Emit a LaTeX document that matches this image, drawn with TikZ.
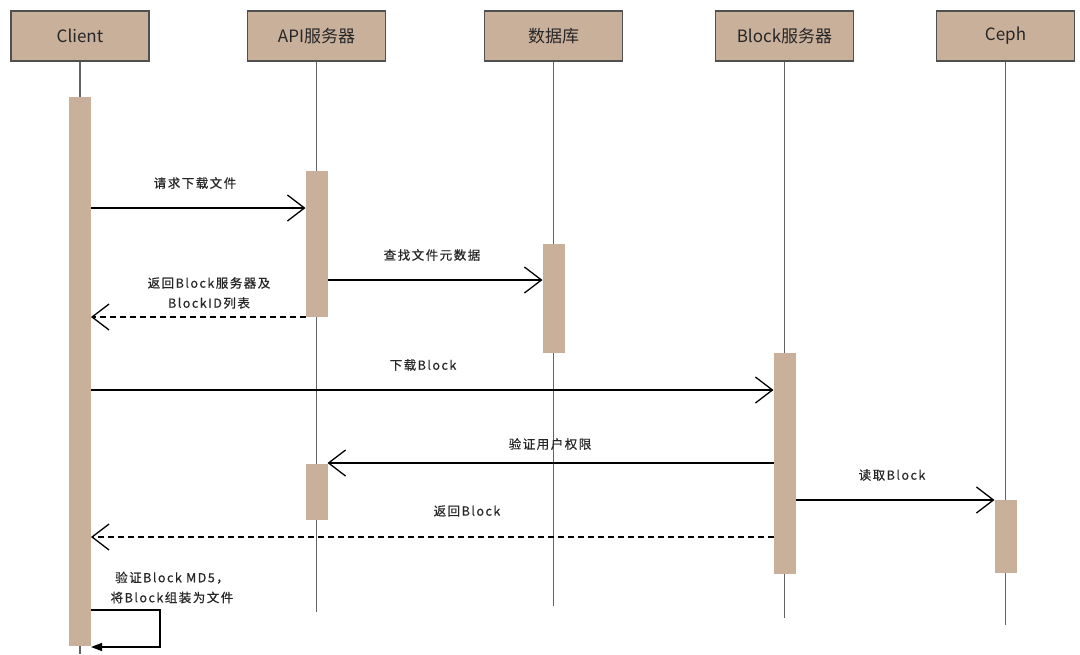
\documentclass[tikz,border=0pt]{standalone}
\usepackage{fontspec}
\setmainfont{Noto Sans CJK SC}
\newfontfamily\hdfont{Noto Sans CJK SC}
\newfontfamily\lbfont[LetterSpace=12,FakeBold=0.6]{Noto Sans CJK SC}
\usetikzlibrary{arrows.meta}
\definecolor{tan}{RGB}{201,176,155}
\definecolor{edge}{RGB}{80,80,80}
\definecolor{life}{RGB}{100,100,100}
\tikzset{
  head/.style={draw=edge,line width=1.2pt,fill=tan,minimum width=138pt,minimum height=50pt,inner sep=0pt,font=\hdfont\fontsize{17}{20}\selectfont,text=black!85},
  bar/.style={fill=tan,draw=none},
  lifeline/.style={draw=life,line width=1.3pt},
  msg/.style={draw=black,line width=1.3pt,-{Straight Barb[length=17pt,width=26pt,line width=1.3pt]}},
  ret/.style={msg,dash pattern=on 6pt off 4pt},
  lbl/.style={font=\lbfont\fontsize{12.5}{20}\selectfont,text=black!85,inner sep=0pt,align=center},
}
\begin{document}
\begin{tikzpicture}[x=1pt,y=-1pt]
\useasboundingbox (0,0) rectangle (1080,654);
% headers
\node[head] (client) at (80,36) {Client};
\node[head] (api) at (316.5,36) {API服务器};
\node[head] (db) at (553.5,36) {数据库};
\node[head] (blk) at (784.5,36) {Block服务器};
\node[head] (ceph) at (1005.5,36) {Ceph};
% lifeline ends
\coordinate (clientE) at (80,654);
\coordinate (apiE) at (316.5,612);
\coordinate (dbE) at (553.5,606);
\coordinate (blkE) at (784.5,618);
\coordinate (cephE) at (1005.5,625);
\draw[lifeline] (client.south) -- (clientE);
\draw[lifeline] (api.south) -- (apiE);
\draw[lifeline] (db.south) -- (dbE);
\draw[lifeline] (blk.south) -- (blkE);
\draw[lifeline] (ceph.south) -- (cephE);
% activation bars
\path[bar] (69,97) rectangle (91,646);
\path[bar] (305.5,171) rectangle (327.5,317);
\path[bar] (542.5,244) rectangle (564.5,353);
\path[bar] (773.5,353) rectangle (795.5,574);
\path[bar] (305.5,464) rectangle (327.5,520);
\path[bar] (994.5,500) rectangle (1016.5,573);
% message endpoints
\coordinate (m1a) at (91,208);  \coordinate (m1b) at (305.5,208);
\coordinate (m2a) at (327.5,280); \coordinate (m2b) at (542.5,280);
\coordinate (m3a) at (305.5,317); \coordinate (m3b) at (91,317);
\coordinate (m4a) at (91,390);  \coordinate (m4b) at (773.5,390);
\coordinate (m5a) at (773.5,463); \coordinate (m5b) at (327.5,463);
\coordinate (m6a) at (795.5,500); \coordinate (m6b) at (994.5,500);
\coordinate (m7a) at (773.5,537); \coordinate (m7b) at (91,537);
\coordinate (s1) at (91,610); \coordinate (s2) at (160,610);
\coordinate (s3) at (160,647); \coordinate (s4) at (91,647);
\draw[msg] (m1a) -- (m1b);
\draw[msg] (m2a) -- (m2b);
\draw[ret] (m3a) -- (m3b);
\draw[msg] (m4a) -- (m4b);
\draw[msg] (m5a) -- (m5b);
\draw[msg] (m6a) -- (m6b);
\draw[ret] (m7a) -- (m7b);
\draw[line width=1.4pt,-{Triangle[length=11pt,width=8pt]}] (s1) -- (s2) -- (s3) -- (s4);
% labels
\node[lbl] (l1) at (195,183) {请求下载文件};
\node[lbl] (l2) at (432,255) {查找文件元数据};
\node[lbl] (l3) at (209,293) {返回Block服务器及\\BlockID列表};
\node[lbl] (l4) at (423,365) {下载Block};
\node[lbl] (l5) at (550,444) {验证用户权限};
\node[lbl] (l6) at (892,475) {读取Block};
\node[lbl] (l7) at (467,511) {返回Block};
\node[lbl] (l8) at (172,587.5) {验证Block MD5，\\将Block组装为文件};
\end{tikzpicture}
\end{document}
